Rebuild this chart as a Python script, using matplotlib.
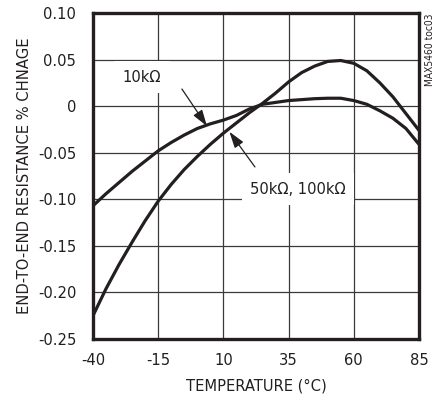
import matplotlib
matplotlib.use("Agg")
import matplotlib.pyplot as plt
from matplotlib import font_manager as fm

# ---- data ----
temps = [-40, -35, -30, -25, -20, -15, -10, -5, 0, 5, 10, 15, 20, 25, 30,
         35, 40, 45, 50, 55, 60, 65, 70, 75, 80, 85]
r_10k = [-0.107, -0.094, -0.082, -0.070, -0.059, -0.048, -0.039, -0.031,
         -0.024, -0.019, -0.015, -0.010, -0.003, 0.002, 0.004, 0.006, 0.007,
         0.008, 0.0085, 0.0085, 0.006, 0.002, -0.005, -0.013, -0.024, -0.041]
r_50k_100k = [-0.225, -0.196, -0.170, -0.146, -0.123, -0.102, -0.084, -0.068,
              -0.054, -0.041, -0.029, -0.018, -0.007, 0.003, 0.014, 0.026,
              0.036, 0.043, 0.048, 0.049, 0.046, 0.038, 0.025, 0.010, -0.008,
              -0.026]
x_ticks = [-40, -15, 10, 35, 60, 85]
y_ticks = [0.10, 0.05, 0, -0.05, -0.10, -0.15, -0.20, -0.25]
y_tick_labels = ["0.10", "0.05", "0", "-0.05", "-0.10", "-0.15", "-0.20", "-0.25"]

# pick a narrow sans font if one is installed
def pick_font():
    paths = [f.fname for f in fm.fontManager.ttflist]
    prefs = ["LiberationSansNarrow-Regular", "DejaVuSansCondensed.ttf",
             "LiberationSans-Regular"]
    for p in prefs:
        for path in paths:
            if p in path.replace("\\", "/").split("/")[-1]:
                return path
    return None

fpath = pick_font()
def fp(size):
    if fpath:
        return fm.FontProperties(fname=fpath, size=size)
    return fm.FontProperties(family="DejaVu Sans", size=size)

fig = plt.figure(figsize=(4.38, 3.99), dpi=100)
ax = fig.add_axes([0.2123, 0.1504, 0.9566 - 0.2123, 0.9674 - 0.1504])

ink = "#231f20"
ax.plot(temps, r_10k, color=ink, lw=2.3, solid_capstyle="butt", zorder=3)
ax.plot(temps, r_50k_100k, color=ink, lw=2.3, solid_capstyle="butt", zorder=3)

FS = 11.8
ax.set_xlim(-40, 85)
ax.set_ylim(-0.25, 0.10)
ax.set_xticks(x_ticks)
ax.set_xticklabels([str(t) for t in x_ticks], fontproperties=fp(FS))
ax.set_yticks(y_ticks)
ax.set_yticklabels(y_tick_labels, fontproperties=fp(FS))
ax.tick_params(length=0, colors=ink)
ax.tick_params(axis="x", pad=10)
ax.tick_params(axis="y", pad=12)
ax.grid(True, color="#3a3a3a", lw=0.9, zorder=1)
for s in ax.spines.values():
    s.set_linewidth(2.4)
    s.set_color(ink)
    s.set_zorder(4)

ax.set_xlabel("TEMPERATURE (°C)", fontproperties=fp(FS), color=ink, labelpad=8)
ax.set_ylabel("END-TO-END RESISTANCE % CHNAGE", fontproperties=fp(FS), color=ink,
              labelpad=4)

arrow_kw = dict(arrowstyle="-|>,head_length=1.0,head_width=0.32", color=ink, lw=0.9,
                shrinkA=0, shrinkB=0)
ax.text(-21.2, 0.031, "10kΩ", fontproperties=fp(FS), color=ink, ha="center", va="center",
        bbox=dict(facecolor="white", edgecolor="none", pad=6), zorder=2)
ax.annotate("", xy=(3.7, -0.0215), xytext=(-5.9, 0.0184), arrowprops=arrow_kw, zorder=5)

ax.text(38.6, -0.089, "50kΩ, 100kΩ", fontproperties=fp(FS), color=ink, ha="center",
        va="center", bbox=dict(facecolor="white", edgecolor="none", pad=6), zorder=2)
ax.annotate("", xy=(12.3, -0.0275), xytext=(22.1, -0.0653), arrowprops=arrow_kw, zorder=5)

fig.text(0.982, 0.967, "MAX5460 toc03", rotation=90, fontproperties=fp(7.3), color=ink,
         ha="center", va="top")

fig.savefig("out.png", dpi=100)
